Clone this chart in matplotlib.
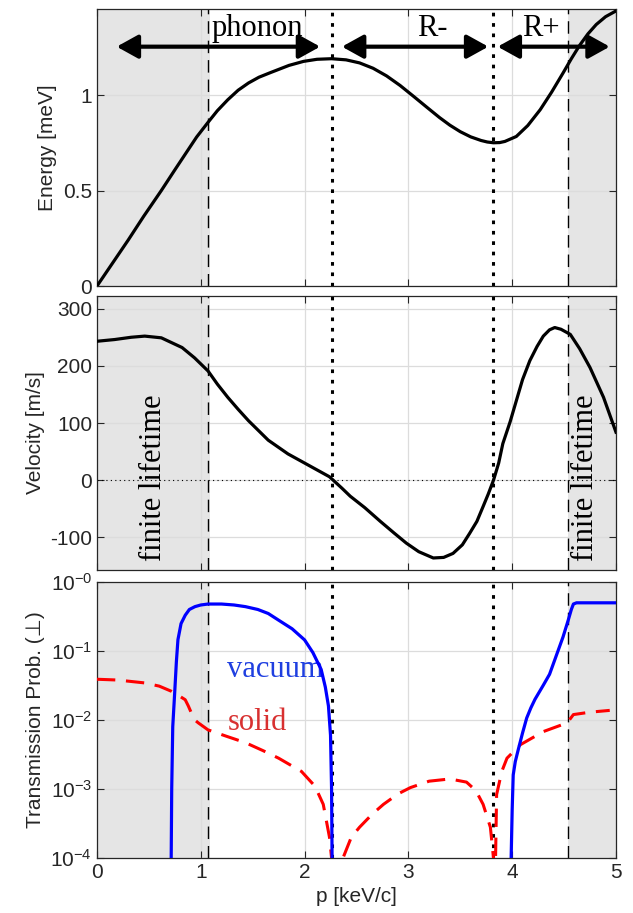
# Dispersion, group velocity and transmission probability vs momentum

import matplotlib
matplotlib.use('Agg')
import matplotlib.pyplot as plt
import numpy as np

plt.rcParams['font.family'] = ['Liberation Sans', 'DejaVu Sans']
plt.rcParams['mathtext.fontset'] = 'custom'
plt.rcParams['mathtext.rm'] = 'Liberation Sans'
plt.rcParams['mathtext.it'] = 'Liberation Sans:italic'
plt.rcParams['axes.unicode_minus'] = False

# Energy dispersion [meV] vs p [keV/c]
p_energy = [0.0, 0.15, 0.3, 0.45, 0.62, 0.75, 0.85, 0.96, 1.07, 1.16, 1.26, 1.36, 1.46, 1.56,
            1.67, 1.85, 1.99, 2.12, 2.26, 2.4, 2.53, 2.66, 2.79, 2.92, 3.05, 3.18, 3.3, 3.4,
            3.5, 3.6, 3.7, 3.76, 3.82, 3.88, 3.93, 4.04, 4.15, 4.27, 4.38, 4.49, 4.57, 4.65,
            4.73, 4.81, 4.9, 5.0]
energy = [0.0, 0.12, 0.24, 0.365, 0.50, 0.608, 0.69, 0.78, 0.857, 0.918, 0.975, 1.025, 1.063, 1.093,
          1.117, 1.155, 1.176, 1.187, 1.19, 1.184, 1.168, 1.14, 1.10, 1.05, 0.993, 0.935, 0.882, 0.842,
          0.808, 0.781, 0.762, 0.754, 0.75, 0.751, 0.757, 0.783, 0.84, 0.923, 1.015, 1.115, 1.19, 1.26,
          1.32, 1.369, 1.41, 1.44]

# Group velocity [m/s]
p_vel = [0.0, 0.17, 0.33, 0.46, 0.62, 0.82, 0.94, 1.07, 1.16, 1.26, 1.36, 1.46, 1.65, 1.84,
         1.97, 2.1, 2.24, 2.36, 2.44, 2.58, 2.73, 2.86, 2.98, 3.1, 3.24, 3.34, 3.43, 3.52,
         3.59, 3.66, 3.72, 3.77, 3.82, 3.87, 3.91, 3.98, 4.04, 4.1, 4.17, 4.24, 4.3, 4.36,
         4.41, 4.47, 4.56, 4.65, 4.75, 4.88, 5.0]
velocity = [243, 246, 250, 252, 249, 232, 214, 191, 168, 145, 124, 104, 70, 46,
            33, 20, 6, -14, -28, -48, -72, -92, -110, -125, -136, -135, -128, -113,
            -93, -72, -46, -24, 0, 30, 64, 102, 139, 176, 209, 234, 252, 263,
            267, 264, 255, 230, 197, 145, 84]

# Transmission probability, vacuum (two branches)
p_vac1 = [0.715, 0.72, 0.73, 0.75, 0.765, 0.78, 0.81, 0.85, 0.89, 0.944, 1.0, 1.07, 1.2, 1.32,
          1.43, 1.55, 1.65, 1.75, 1.88, 2.0, 2.08, 2.16, 2.2, 2.23, 2.25, 2.26, 2.265]
t_vac1 = [1e-4, 1e-3, 8e-3, 0.027, 0.07, 0.146, 0.25, 0.33, 0.40, 0.44, 0.465, 0.48, 0.48, 0.465,
          0.44, 0.40, 0.35, 0.28, 0.21, 0.145, 0.095, 0.054, 0.03, 0.016, 0.006, 1e-3, 1e-4]
p_vac2 = [3.99, 4.0, 4.01, 4.03, 4.06, 4.1, 4.14, 4.18, 4.22, 4.3, 4.36, 4.43, 4.49, 4.54,
          4.57, 4.59, 4.62, 5.0]
t_vac2 = [1e-4, 5e-4, 1.6e-3, 2.5e-3, 3.8e-3, 6.5e-3, 0.0107, 0.015, 0.02, 0.032, 0.046, 0.09,
          0.16, 0.28, 0.40, 0.48, 0.5, 0.5]

# Transmission probability, solid
p_sol = [0.0, 0.2, 0.46, 0.6, 0.72, 0.8, 0.85, 0.88, 0.91, 0.95, 0.976, 1.07, 1.25, 1.43,
         1.6, 1.75, 1.97, 2.1, 2.18, 2.24, 2.26, 2.3, 2.37, 2.45, 2.53, 2.65, 2.76, 2.9,
         3.02, 3.2, 3.4, 3.56, 3.65, 3.72, 3.79, 3.82, 3.83, 3.84, 3.85, 3.9, 3.95, 4.08,
         4.3, 4.53, 4.59, 4.75, 4.94]
t_sol = [0.039, 0.038, 0.0345, 0.031, 0.026, 0.022, 0.0197, 0.016, 0.0126, 0.0098, 0.0091,
         0.0072, 0.0058, 0.0047, 0.0036, 0.0028, 0.0018, 0.0011, 6e-4, 2e-4, 1e-4, 1e-5,
         1e-4, 2e-4, 2.8e-4, 4.3e-4, 6e-4, 8.5e-4, 1.05e-3, 1.3e-3, 1.4e-3, 1.26e-3, 9.5e-4,
         6e-4, 2.8e-4, 1e-4, 1e-5, 1e-4, 8.3e-4, 1.8e-3, 2.8e-3, 4.4e-3, 6.8e-3, 9.1e-3,
         0.012, 0.013, 0.0138]

# Region boundaries [keV/c]
lifetime_lo, lifetime_hi = 1.07, 4.54
shade_lo = 1.09
extrema = [2.265, 3.82]

fig = plt.figure(figsize=(6.33, 9.13), dpi=100)
ax1 = fig.add_axes([0.1532, 0.6867, 0.8199, 0.3034])
ax2 = fig.add_axes([0.1532, 0.3757, 0.8199, 0.3000])
ax3 = fig.add_axes([0.1532, 0.0602, 0.8199, 0.3023])

edge = '#262626'
for ax in (ax1, ax2, ax3):
    ax.axvspan(0, shade_lo, color='#e5e5e5', zorder=0, lw=0)
    ax.axvspan(lifetime_hi, 5, color='#e5e5e5', zorder=0, lw=0)
    ax.grid(True, color='#dcdcdc', lw=0.9, zorder=0.5)
    ax.set_axisbelow(True)
    for xv in (lifetime_lo, lifetime_hi):
        ax.axvline(xv, color='k', ls=(0, (9, 5)), lw=1.0, zorder=2)
    for xv in extrema:
        ax.axvline(xv, color='k', ls=(0, (1.2, 2.2)), lw=2.2, zorder=2)
    ax.set_xlim(0, 5)
    ax.set_xticks([0, 1, 2, 3, 4, 5])
    ax.tick_params(direction='in', length=5, top=True, right=True, labelsize=15,
                   colors=edge, width=0.8)
    for s in ax.spines.values():
        s.set_color(edge)
        s.set_linewidth(0.9)

# Energy panel
ax1.plot(p_energy, energy, color='k', lw=2.3, zorder=3)
ax1.set_ylim(0, 1.45)
ax1.set_yticks([0, 0.5, 1])
ax1.set_yticklabels(['0', '0.5', '1'])
ax1.set_xticklabels([])
ax1.set_ylabel('Energy [meV]', fontsize=15, color=edge)

arrow_kw = dict(arrowstyle='<|-|>,head_length=0.65,head_width=0.36', lw=3, color='k',
                shrinkA=0, shrinkB=0, mutation_scale=20)
for x0, x1 in [(0.19, 2.15), (2.36, 3.77), (3.86, 4.94)]:
    ax1.annotate('', xy=(x1, 1.253), xytext=(x0, 1.253), arrowprops=arrow_kw, zorder=4)
serif = dict(family='Liberation Serif', fontsize=22)
ax1.text(1.54, 1.35, 'phonon', ha='center', va='center', **serif)
ax1.text(3.23, 1.35, 'R-', ha='center', va='center', **serif)
ax1.text(4.28, 1.35, 'R+', ha='center', va='center', **serif)

# Velocity panel
ax2.plot(p_vel, velocity, color='k', lw=2.3, zorder=3)
ax2.axhline(0, color='k', ls=(0, (1, 3)), lw=0.8, zorder=2)
ax2.set_ylim(-157, 322)
ax2.set_yticks([-100, 0, 100, 200, 300])
ax2.set_xticklabels([])
ax2.set_ylabel('Velocity [m/s]', fontsize=15, color=edge)
ax2.text(0.54, 5, 'finite lifetime', rotation=90, ha='center', va='center', **serif)
ax2.text(4.71, 5, 'finite lifetime', rotation=90, ha='center', va='center', **serif)

# Transmission panel
ax3.set_yscale('log')
ax3.plot(p_sol, t_sol, color='#ff0000', lw=2.2, ls=(0, (6, 3.5)), zorder=3)
ax3.plot(p_vac1, t_vac1, color='#0000ff', lw=2.3, zorder=4)
ax3.plot(p_vac2, t_vac2, color='#0000ff', lw=2.3, zorder=4)
ax3.set_ylim(1e-4, 1)
ax3.set_yticks([1e-4, 1e-3, 1e-2, 1e-1, 1])
ax3.set_yticklabels([r'$10^{-4}$', r'$10^{-3}$', r'$10^{-2}$', r'$10^{-1}$', r'$10^{-0}$'])
ax3.minorticks_off()
ax3.set_xticklabels(['0', '1', '2', '3', '4', '5'])
ax3.set_xlabel('p [keV/c]', fontsize=15, color=edge)
ax3.set_ylabel('Transmission Prob. (⊥)', fontsize=15, color=edge)
ax3.text(1.72, 0.054, 'vacuum', color='#1f3fe0', ha='center', va='center', **serif)
ax3.text(1.55, 0.0092, 'solid', color='#d83030', ha='center', va='center', **serif)

fig.savefig('out.png', dpi=100)
